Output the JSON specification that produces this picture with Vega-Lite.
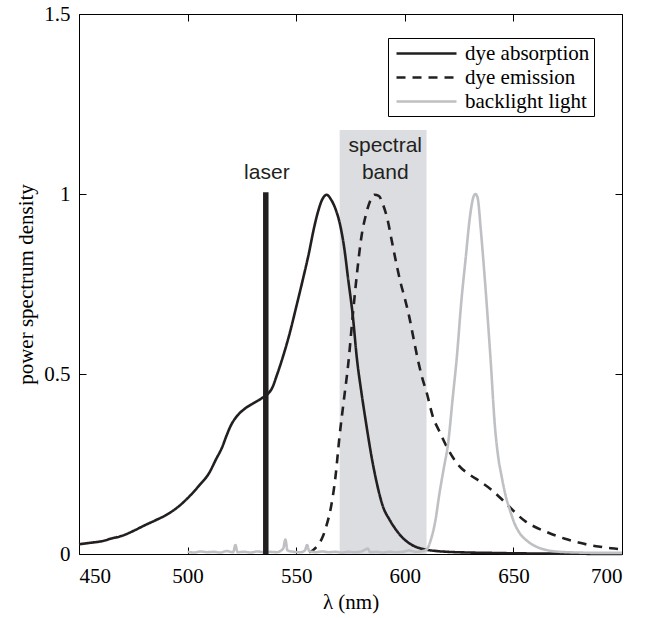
{
  "$schema": "https://vega.github.io/schema/vega-lite/v6.json",
  "width": 543,
  "height": 540,
  "autosize": "none",
  "padding": {"left": 79, "top": 14, "right": 32, "bottom": 64},
  "background": "white",
  "config": {
    "view": {"stroke": null},
    "font": "Liberation Serif",
    "axis": {
      "grid": false,
      "domainColor": "black",
      "domainWidth": 1,
      "tickColor": "black",
      "tickWidth": 1,
      "tickSize": -7,
      "labelFont": "Liberation Serif",
      "labelFontSize": 21,
      "labelColor": "black",
      "titleFont": "Liberation Serif",
      "titleFontSize": 21,
      "titleFontWeight": "normal",
      "titleColor": "black"
    }
  },
  "datasets": {
    "band": [{"x1": 570, "x2": 610, "y1": 0, "y2": 1.178}],
    "laser": [{"x": 536, "y1": 0, "y2": 1.005}],
    "labels": [
      {"x": 536.5, "y": 1.043, "text": "laser"},
      {"x": 591, "y": 1.117, "text": "spectral"},
      {"x": 591, "y": 1.043, "text": "band"}
    ],
    "curves": [
      {"series": "dye absorption", "x": 450, "y": 0.027},
      {"series": "dye absorption", "x": 455, "y": 0.031},
      {"series": "dye absorption", "x": 460, "y": 0.035},
      {"series": "dye absorption", "x": 465, "y": 0.043},
      {"series": "dye absorption", "x": 470, "y": 0.051},
      {"series": "dye absorption", "x": 475, "y": 0.064},
      {"series": "dye absorption", "x": 480, "y": 0.079},
      {"series": "dye absorption", "x": 485, "y": 0.093},
      {"series": "dye absorption", "x": 490, "y": 0.108},
      {"series": "dye absorption", "x": 495, "y": 0.128},
      {"series": "dye absorption", "x": 500, "y": 0.155},
      {"series": "dye absorption", "x": 505, "y": 0.188},
      {"series": "dye absorption", "x": 510, "y": 0.226},
      {"series": "dye absorption", "x": 513, "y": 0.262},
      {"series": "dye absorption", "x": 516, "y": 0.298},
      {"series": "dye absorption", "x": 518, "y": 0.33},
      {"series": "dye absorption", "x": 520, "y": 0.358},
      {"series": "dye absorption", "x": 523, "y": 0.385},
      {"series": "dye absorption", "x": 526, "y": 0.402},
      {"series": "dye absorption", "x": 530, "y": 0.418},
      {"series": "dye absorption", "x": 534, "y": 0.432},
      {"series": "dye absorption", "x": 537, "y": 0.445},
      {"series": "dye absorption", "x": 539, "y": 0.462},
      {"series": "dye absorption", "x": 541, "y": 0.495},
      {"series": "dye absorption", "x": 544, "y": 0.55},
      {"series": "dye absorption", "x": 547, "y": 0.613},
      {"series": "dye absorption", "x": 550, "y": 0.686},
      {"series": "dye absorption", "x": 553, "y": 0.761},
      {"series": "dye absorption", "x": 556, "y": 0.84},
      {"series": "dye absorption", "x": 558, "y": 0.9},
      {"series": "dye absorption", "x": 560, "y": 0.95},
      {"series": "dye absorption", "x": 562, "y": 0.985},
      {"series": "dye absorption", "x": 564, "y": 0.998},
      {"series": "dye absorption", "x": 566, "y": 0.985},
      {"series": "dye absorption", "x": 568, "y": 0.96},
      {"series": "dye absorption", "x": 570, "y": 0.92},
      {"series": "dye absorption", "x": 572, "y": 0.855},
      {"series": "dye absorption", "x": 574, "y": 0.76},
      {"series": "dye absorption", "x": 576, "y": 0.665},
      {"series": "dye absorption", "x": 578, "y": 0.54},
      {"series": "dye absorption", "x": 580, "y": 0.45},
      {"series": "dye absorption", "x": 582, "y": 0.37},
      {"series": "dye absorption", "x": 585, "y": 0.26},
      {"series": "dye absorption", "x": 587, "y": 0.2},
      {"series": "dye absorption", "x": 590, "y": 0.131},
      {"series": "dye absorption", "x": 593, "y": 0.095},
      {"series": "dye absorption", "x": 596, "y": 0.067},
      {"series": "dye absorption", "x": 599, "y": 0.045},
      {"series": "dye absorption", "x": 602, "y": 0.03},
      {"series": "dye absorption", "x": 605, "y": 0.02},
      {"series": "dye absorption", "x": 609, "y": 0.013},
      {"series": "dye absorption", "x": 615, "y": 0.008},
      {"series": "dye absorption", "x": 620, "y": 0.006},
      {"series": "dye absorption", "x": 630, "y": 0.004},
      {"series": "dye absorption", "x": 640, "y": 0.003},
      {"series": "dye absorption", "x": 650, "y": 0.002},
      {"series": "dye absorption", "x": 670, "y": 0.001},
      {"series": "dye absorption", "x": 700, "y": 0.0},
      {"series": "dye emission", "x": 556, "y": 0.005},
      {"series": "dye emission", "x": 558, "y": 0.012},
      {"series": "dye emission", "x": 560, "y": 0.025},
      {"series": "dye emission", "x": 562, "y": 0.045},
      {"series": "dye emission", "x": 564, "y": 0.08},
      {"series": "dye emission", "x": 566, "y": 0.13},
      {"series": "dye emission", "x": 568, "y": 0.21},
      {"series": "dye emission", "x": 570, "y": 0.33},
      {"series": "dye emission", "x": 572, "y": 0.43},
      {"series": "dye emission", "x": 574, "y": 0.53},
      {"series": "dye emission", "x": 576, "y": 0.66},
      {"series": "dye emission", "x": 578, "y": 0.78},
      {"series": "dye emission", "x": 580, "y": 0.88},
      {"series": "dye emission", "x": 582, "y": 0.94},
      {"series": "dye emission", "x": 584, "y": 0.98},
      {"series": "dye emission", "x": 586, "y": 0.998},
      {"series": "dye emission", "x": 588, "y": 0.995},
      {"series": "dye emission", "x": 590, "y": 0.97},
      {"series": "dye emission", "x": 592, "y": 0.93},
      {"series": "dye emission", "x": 594, "y": 0.87},
      {"series": "dye emission", "x": 596, "y": 0.81},
      {"series": "dye emission", "x": 598, "y": 0.755},
      {"series": "dye emission", "x": 600, "y": 0.71},
      {"series": "dye emission", "x": 602, "y": 0.66},
      {"series": "dye emission", "x": 604, "y": 0.6},
      {"series": "dye emission", "x": 606, "y": 0.54},
      {"series": "dye emission", "x": 608, "y": 0.49},
      {"series": "dye emission", "x": 610, "y": 0.45},
      {"series": "dye emission", "x": 613, "y": 0.38},
      {"series": "dye emission", "x": 616, "y": 0.34},
      {"series": "dye emission", "x": 620, "y": 0.29},
      {"series": "dye emission", "x": 625, "y": 0.245},
      {"series": "dye emission", "x": 630, "y": 0.22},
      {"series": "dye emission", "x": 635, "y": 0.2},
      {"series": "dye emission", "x": 640, "y": 0.178},
      {"series": "dye emission", "x": 645, "y": 0.15},
      {"series": "dye emission", "x": 650, "y": 0.12},
      {"series": "dye emission", "x": 655, "y": 0.093},
      {"series": "dye emission", "x": 660, "y": 0.075},
      {"series": "dye emission", "x": 665, "y": 0.062},
      {"series": "dye emission", "x": 670, "y": 0.05},
      {"series": "dye emission", "x": 675, "y": 0.04},
      {"series": "dye emission", "x": 680, "y": 0.032},
      {"series": "dye emission", "x": 685, "y": 0.025},
      {"series": "dye emission", "x": 690, "y": 0.02},
      {"series": "dye emission", "x": 695, "y": 0.016},
      {"series": "dye emission", "x": 700, "y": 0.013},
      {"series": "backlight light", "x": 500, "y": 0.006},
      {"series": "backlight light", "x": 503, "y": 0.004},
      {"series": "backlight light", "x": 506, "y": 0.007},
      {"series": "backlight light", "x": 509, "y": 0.005},
      {"series": "backlight light", "x": 512, "y": 0.006},
      {"series": "backlight light", "x": 515, "y": 0.004},
      {"series": "backlight light", "x": 518, "y": 0.008},
      {"series": "backlight light", "x": 521, "y": 0.005},
      {"series": "backlight light", "x": 522, "y": 0.025},
      {"series": "backlight light", "x": 523, "y": 0.005},
      {"series": "backlight light", "x": 526, "y": 0.006},
      {"series": "backlight light", "x": 529, "y": 0.004},
      {"series": "backlight light", "x": 532, "y": 0.007},
      {"series": "backlight light", "x": 535, "y": 0.005},
      {"series": "backlight light", "x": 538, "y": 0.006},
      {"series": "backlight light", "x": 541, "y": 0.005},
      {"series": "backlight light", "x": 544, "y": 0.015},
      {"series": "backlight light", "x": 545, "y": 0.04},
      {"series": "backlight light", "x": 546, "y": 0.01},
      {"series": "backlight light", "x": 549, "y": 0.006},
      {"series": "backlight light", "x": 552, "y": 0.005},
      {"series": "backlight light", "x": 554, "y": 0.01},
      {"series": "backlight light", "x": 555, "y": 0.025},
      {"series": "backlight light", "x": 556, "y": 0.008},
      {"series": "backlight light", "x": 559, "y": 0.005},
      {"series": "backlight light", "x": 562, "y": 0.007},
      {"series": "backlight light", "x": 565, "y": 0.005},
      {"series": "backlight light", "x": 568, "y": 0.006},
      {"series": "backlight light", "x": 571, "y": 0.004},
      {"series": "backlight light", "x": 574, "y": 0.006},
      {"series": "backlight light", "x": 577, "y": 0.005},
      {"series": "backlight light", "x": 580, "y": 0.007},
      {"series": "backlight light", "x": 583, "y": 0.015},
      {"series": "backlight light", "x": 584, "y": 0.005},
      {"series": "backlight light", "x": 587, "y": 0.006},
      {"series": "backlight light", "x": 590, "y": 0.004},
      {"series": "backlight light", "x": 593, "y": 0.006},
      {"series": "backlight light", "x": 596, "y": 0.005},
      {"series": "backlight light", "x": 599, "y": 0.006},
      {"series": "backlight light", "x": 602, "y": 0.01},
      {"series": "backlight light", "x": 605, "y": 0.006},
      {"series": "backlight light", "x": 608, "y": 0.008},
      {"series": "backlight light", "x": 610, "y": 0.012},
      {"series": "backlight light", "x": 612, "y": 0.04},
      {"series": "backlight light", "x": 614, "y": 0.09},
      {"series": "backlight light", "x": 616, "y": 0.17},
      {"series": "backlight light", "x": 618, "y": 0.24},
      {"series": "backlight light", "x": 620, "y": 0.31},
      {"series": "backlight light", "x": 622, "y": 0.43},
      {"series": "backlight light", "x": 624, "y": 0.55},
      {"series": "backlight light", "x": 626, "y": 0.7},
      {"series": "backlight light", "x": 628, "y": 0.82},
      {"series": "backlight light", "x": 630, "y": 0.937},
      {"series": "backlight light", "x": 631.5, "y": 0.99},
      {"series": "backlight light", "x": 632.5, "y": 1.0},
      {"series": "backlight light", "x": 633.5, "y": 0.99},
      {"series": "backlight light", "x": 635, "y": 0.9},
      {"series": "backlight light", "x": 636.5, "y": 0.79},
      {"series": "backlight light", "x": 638, "y": 0.67},
      {"series": "backlight light", "x": 639.5, "y": 0.54},
      {"series": "backlight light", "x": 641.5, "y": 0.354},
      {"series": "backlight light", "x": 643, "y": 0.27},
      {"series": "backlight light", "x": 644.6, "y": 0.215},
      {"series": "backlight light", "x": 646.5, "y": 0.16},
      {"series": "backlight light", "x": 648.4, "y": 0.122},
      {"series": "backlight light", "x": 650.5, "y": 0.085},
      {"series": "backlight light", "x": 653, "y": 0.057},
      {"series": "backlight light", "x": 656, "y": 0.038},
      {"series": "backlight light", "x": 660.7, "y": 0.02},
      {"series": "backlight light", "x": 666, "y": 0.01},
      {"series": "backlight light", "x": 671.5, "y": 0.006},
      {"series": "backlight light", "x": 680, "y": 0.004},
      {"series": "backlight light", "x": 690, "y": 0.003},
      {"series": "backlight light", "x": 700, "y": 0.003}
    ]
  },
  "resolve": {"axis": {"x": "independent", "y": "independent"}},
  "layer": [
    {
      "data": {"name": "band"},
      "mark": {"type": "rect", "color": "#dcdde0"},
      "encoding": {
        "x": {"field": "x1", "type": "quantitative", "scale": {"domain": [450, 700], "nice": false, "zero": false}, "axis": null},
        "x2": {"field": "x2"},
        "y": {"field": "y1", "type": "quantitative", "scale": {"domain": [0, 1.5], "nice": false},
              "axis": {"orient": "left", "values": [0, 0.5, 1, 1.5], "format": "~g", "title": "power spectrum density", "labelPadding": 16, "titlePadding": 7,
                       "labelFont": "Liberation Serif", "labelFontSize": 21, "titleFont": "Liberation Serif", "titleFontSize": 21}},
        "y2": {"field": "y2"}
      }
    },
    {
      "data": {"name": "curves"},
      "mark": {"type": "line", "strokeWidth": 2.6, "interpolate": "monotone"},
      "encoding": {
        "x": {"field": "x", "type": "quantitative",
              "axis": {"orient": "bottom", "values": [450, 500, 550, 600, 650, 700], "format": "d", "title": "λ (nm)", "labelPadding": 18, "titlePadding": 5,
                       "labelFont": "Liberation Serif", "labelFontSize": 21, "titleFont": "Liberation Serif", "titleFontSize": 21}},
        "y": {"field": "y", "type": "quantitative", "axis": null},
        "color": {
          "field": "series", "type": "nominal",
          "scale": {"domain": ["dye absorption", "dye emission", "backlight light"], "range": ["#231f20", "#231f20", "#bfc0c4"]},
          "legend": {
            "title": null, "orient": "none", "legendX": 309, "legendY": 24,
            "strokeColor": "black", "fillColor": "white", "padding": 4,
            "symbolType": "M-3,0H3", "symbolSize": 400, "symbolStrokeWidth": 2.6, "symbolOffset": 23,
            "labelFont": "Liberation Serif", "labelFontSize": 21, "labelColor": "black",
            "labelOffset": 27, "rowPadding": 2
          }
        },
        "strokeDash": {
          "field": "series", "type": "nominal",
          "scale": {"domain": ["dye absorption", "dye emission", "backlight light"], "range": [[1, 0], [9, 7], [1, 0]]}
        },
        "order": {"field": "x", "type": "quantitative"}
      }
    },
    {
      "data": {"name": "laser"},
      "mark": {"type": "rule", "color": "#231f20", "strokeWidth": 5.5},
      "encoding": {
        "x": {"field": "x", "type": "quantitative",
              "axis": {"orient": "top", "values": [450, 500, 550, 600, 650, 700], "labels": false, "title": null}},
        "y": {"field": "y1", "type": "quantitative",
              "axis": {"orient": "right", "values": [0, 0.5, 1, 1.5], "labels": false, "title": null}},
        "y2": {"field": "y2"}
      }
    },
    {
      "data": {"name": "labels"},
      "mark": {"type": "text", "font": "Liberation Sans", "fontSize": 21, "color": "#231f20", "align": "center", "baseline": "alphabetic"},
      "encoding": {
        "x": {"field": "x", "type": "quantitative", "axis": null},
        "y": {"field": "y", "type": "quantitative", "axis": null},
        "text": {"field": "text"}
      }
    }
  ]
}
